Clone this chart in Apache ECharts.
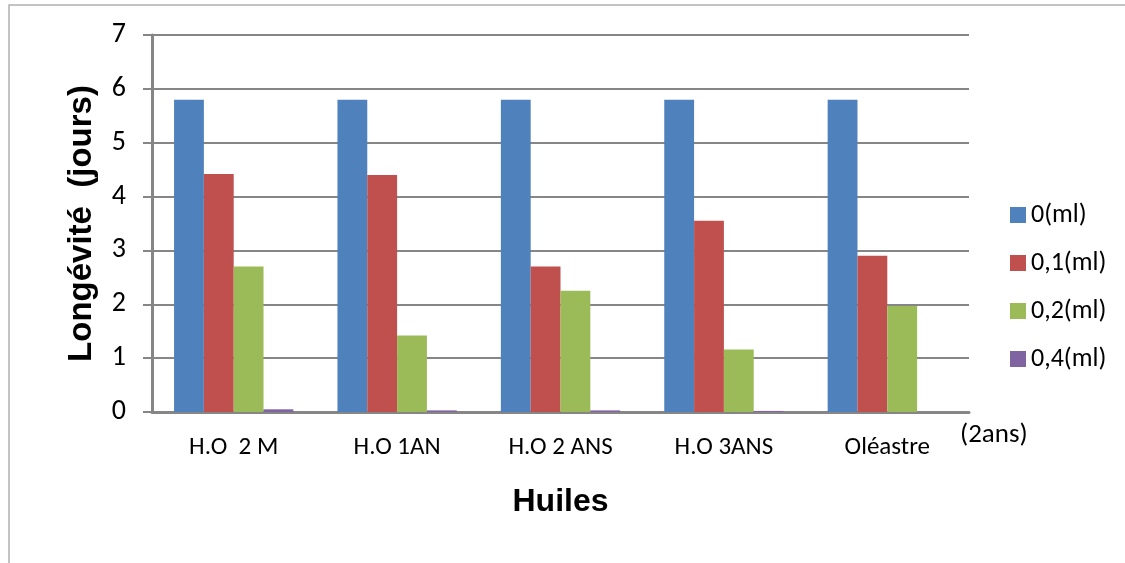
<!DOCTYPE html>
<html>
<head>
<meta charset="utf-8">
<script src="https://cdn.jsdelivr.net/npm/echarts@6/dist/echarts.min.js"></script>
<style>html,body{margin:0;padding:0;background:#fff}#c{width:1125px;height:563px}</style>
</head>
<body>
<div id="c"></div>
<script>
const categories = ['H.O  2 M', 'H.O 1AN', 'H.O 2 ANS', 'H.O 3ANS', 'Oléastre'];
const seriesNames = ['0(ml)', '0,1(ml)', '0,2(ml)', '0,4(ml)'];
const s0 = [5.8, 5.8, 5.8, 5.8, 5.8];
const s01 = [4.42, 4.4, 2.7, 3.55, 2.9];
const s02 = [2.7, 1.42, 2.25, 1.16, 1.97];
const s04 = [0.05, 0.03, 0.03, 0.02, 0];
const yTicks = [0, 1, 2, 3, 4, 5, 6, 7];
const colors = ['#4F81BD', '#C0504D', '#9BBB59', '#8064A2'];
const narrow = 'Carlito, "Liberation Sans Narrow", "Liberation Sans", sans-serif';

const chart = echarts.init(document.getElementById('c'));
const data = [s0, s01, s02, s04];
chart.setOption({
  animation: false,
  color: colors,
  grid: { left: 152, right: 156, top: 35, bottom: 151 },
  legend: {
    orient: 'vertical', left: 1005, top: 197,
    itemWidth: 16, itemHeight: 16, itemGap: 22, icon: 'rect',
    textStyle: { fontSize: 26, color: '#000', fontFamily: narrow },
    data: seriesNames
  },
  xAxis: {
    type: 'category', data: categories,
    axisLine: { lineStyle: { color: '#868686', width: 3 } },
    axisTick: { show: false },
    axisLabel: { color: '#000', fontSize: 25, margin: 23, fontFamily: narrow, interval: 0 },
    name: 'Huiles', nameLocation: 'middle', nameGap: 74,
    nameTextStyle: { fontSize: 32, fontWeight: 'bold', color: '#000', fontFamily: '"Liberation Sans", Arial, sans-serif' }
  },
  yAxis: {
    type: 'value', min: 0, max: 7, interval: 1,
    axisLine: { show: true, lineStyle: { color: '#868686', width: 3 } },
    axisTick: { show: true, length: 9, lineStyle: { color: '#868686', width: 2 } },
    splitLine: { lineStyle: { color: '#868686', width: 2 } },
    axisLabel: { color: '#000', fontSize: 28, margin: 26, fontFamily: narrow,
      formatter: v => yTicks.includes(v) ? String(v) : '' },
    name: 'Longévité  (jours)', nameLocation: 'middle', nameGap: 54, nameRotate: 90,
    nameTextStyle: { fontSize: 33, fontWeight: 'bold', color: '#000', fontFamily: '"Liberation Sans", Arial, sans-serif' }
  },
  series: seriesNames.map((n, i) => ({
    name: n, type: 'bar', data: data[i],
    barGap: '0%', barCategoryGap: '27%',
    itemStyle: { color: colors[i] }
  })),
  graphic: [
    { type: 'rect', shape: { x: 9, y: 5, width: 1130, height: 570 }, style: { fill: 'none', stroke: '#b0b0b0', lineWidth: 1.5 }, silent: true },
    { type: 'text', left: 960, top: 422, style: { text: '(2ans)', fill: '#000', fontSize: 27, fontFamily: narrow } }
  ]
});
</script>
</body>
</html>
